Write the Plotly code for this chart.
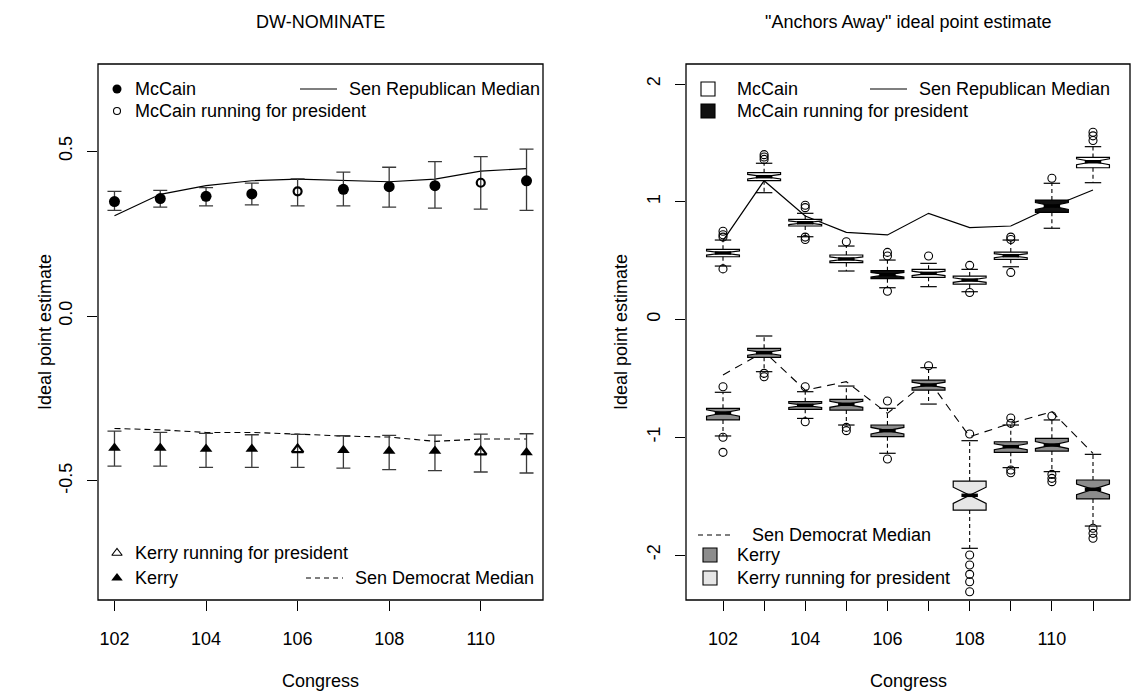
import plotly.graph_objects as go

W, H = 1131, 694
FONT = "Liberation Sans, Arial, Helvetica, sans-serif"

# ---------------- data ----------------
congress = [102, 103, 104, 105, 106, 107, 108, 109, 110, 111]
x_tick_left = [102, 104, 106, 108, 110]
x_tick_labels_right = ["102", "", "104", "", "106", "", "108", "", "110", ""]
y_ticks_left = [-0.5, 0.0, 0.5]
y_tick_labels_left = ["-0.5", "0.0", "0.5"]
y_ticks_right = [-2, -1, 0, 1, 2]
y_tick_labels_right = ["-2", "-1", "0", "1", "2"]

# DW-NOMINATE panel
dw_mccain = [0.347, 0.356, 0.363, 0.370, 0.378, 0.384, 0.392, 0.395, 0.404, 0.410]
dw_mccain_lo = [0.320, 0.330, 0.334, 0.337, 0.334, 0.334, 0.330, 0.327, 0.324, 0.320]
dw_mccain_hi = [0.378, 0.381, 0.389, 0.403, 0.416, 0.436, 0.451, 0.468, 0.483, 0.506]
dw_rep_median = [0.304, 0.369, 0.395, 0.410, 0.415, 0.411, 0.407, 0.415, 0.439, 0.447]
dw_kerry = [-0.400, -0.400, -0.403, -0.403, -0.405, -0.407, -0.409, -0.409, -0.412, -0.414]
dw_kerry_lo = [-0.455, -0.455, -0.459, -0.459, -0.459, -0.461, -0.466, -0.469, -0.473, -0.476]
dw_kerry_hi = [-0.349, -0.353, -0.356, -0.360, -0.359, -0.363, -0.362, -0.361, -0.358, -0.357]
dw_dem_median = [-0.341, -0.345, -0.353, -0.353, -0.358, -0.364, -0.367, -0.380, -0.373, -0.373]
dw_running = [False, False, False, False, True, False, False, False, True, False]

# "Anchors Away" panel: box statistics
mc_q1 = [0.533, 1.179, 0.794, 0.483, 0.347, 0.358, 0.301, 0.511, 0.910, 1.289]
mc_med = [0.565, 1.213, 0.822, 0.514, 0.381, 0.392, 0.335, 0.542, 0.964, 1.340]
mc_q3 = [0.596, 1.247, 0.851, 0.548, 0.415, 0.426, 0.369, 0.573, 1.015, 1.377]
mc_lo = [0.454, 1.077, 0.703, 0.412, 0.270, 0.279, 0.236, 0.448, 0.775, 1.162]
mc_hi = [0.675, 1.327, 0.902, 0.624, 0.505, 0.477, 0.426, 0.675, 1.157, 1.468]
mc_running = [False, False, False, False, True, False, False, False, True, False]
mc_out_x = [102, 102, 102, 102, 103, 103, 103, 104, 104, 104, 104, 105, 106, 106, 106,
            107, 108, 108, 109, 109, 109, 110, 111, 111, 111]
mc_out_y = [0.75, 0.72, 0.70, 0.43, 1.40, 1.38, 1.36, 0.97, 0.95, 0.70, 0.68, 0.66, 0.57, 0.54, 0.24,
            0.54, 0.46, 0.23, 0.70, 0.68, 0.40, 1.20, 1.52, 1.56, 1.59]

k_q1 = [-0.853, -0.321, -0.763, -0.769, -0.995, -0.599, -1.618, -1.128, -1.117, -1.524]
k_med = [-0.794, -0.282, -0.729, -0.720, -0.944, -0.556, -1.493, -1.080, -1.066, -1.442]
k_q3 = [-0.754, -0.245, -0.698, -0.678, -0.896, -0.514, -1.372, -1.038, -1.009, -1.363]
k_lo = [-0.989, -0.443, -0.840, -0.896, -1.136, -0.718, -1.943, -1.258, -1.292, -1.754]
k_hi = [-0.618, -0.140, -0.613, -0.565, -0.754, -0.409, -1.029, -0.896, -0.853, -1.145]
k_running = [False, False, False, False, False, False, True, False, False, False]
k_out_x = [102, 102, 102, 103, 103, 104, 104, 105, 105, 106, 106, 107,
           108, 108, 108, 108, 108, 108, 109, 109, 109, 109, 110, 110, 110, 110, 111, 111, 111]
k_out_y = [-0.571, -1.00, -1.128, -0.457, -0.486, -0.571, -0.868, -0.916, -0.944, -0.692, -1.185, -0.392,
           -0.972, -2.00, -2.085, -2.164, -2.227, -2.312, -0.836, -0.882, -1.278, -1.301,
           -0.82, -1.315, -1.349, -1.377, -1.773, -1.816, -1.858]

aa_rep_median = [0.67, 1.179, 0.879, 0.740, 0.718, 0.902, 0.780, 0.794, 0.958, 1.10]
aa_dem_median = [-0.471, -0.273, -0.600, -0.528, -0.797, -0.514, -0.995, -0.882, -0.783, -1.136]

# ---------------- style ----------------
BOX_W = 0.8
NOTCH_FRAC = 0.28
MED_HALF = 0.2
CAP_HALF = 0.2
KERRY_GRAY = "#8c8c8c"
KERRY_LIGHT = "#e6e6e6"


def pick(vals, flags, want=True):
    return [v for v, f in zip(vals, flags) if f == want]


def seg_xy(xs, y0s, y1s):
    X, Y = [], []
    for x, a, b in zip(xs, y0s, y1s):
        X += [x, x, None]
        Y += [a, b, None]
    return X, Y


def hseg_xy(xs, ys, half):
    X, Y = [], []
    for x, y in zip(xs, ys):
        X += [x - half, x + half, None]
        Y += [y, y, None]
    return X, Y


fig = go.Figure()
NS = dict(showlegend=False, hoverinfo="skip")

# ---------- left panel ----------
fig.add_trace(go.Scatter(x=congress, y=dw_rep_median, mode="lines",
                         line=dict(color="black", width=1.2), xaxis="x", yaxis="y", **NS))
fig.add_trace(go.Scatter(x=congress, y=dw_dem_median, mode="lines",
                         line=dict(color="black", width=1.1, dash="6px,4px"), xaxis="x", yaxis="y", **NS))
for vals, lo, hi in [(dw_mccain, dw_mccain_lo, dw_mccain_hi), (dw_kerry, dw_kerry_lo, dw_kerry_hi)]:
    fig.add_trace(go.Scatter(
        x=congress, y=vals, mode="markers", marker=dict(size=2, color="rgba(0,0,0,0)"),
        error_y=dict(type="data", symmetric=False,
                     array=[h - v for h, v in zip(hi, vals)],
                     arrayminus=[v - l for v, l in zip(vals, lo)],
                     color="#3a3a3a", thickness=1.3, width=7),
        xaxis="x", yaxis="y", **NS))
fig.add_trace(go.Scatter(x=pick(congress, dw_running, False), y=pick(dw_mccain, dw_running, False),
                         mode="markers", marker=dict(symbol="circle", size=11, color="black"),
                         xaxis="x", yaxis="y", **NS))
fig.add_trace(go.Scatter(x=pick(congress, dw_running), y=pick(dw_mccain, dw_running),
                         mode="markers", marker=dict(symbol="circle-open", size=8, color="black",
                                                     line=dict(width=2.2)),
                         xaxis="x", yaxis="y", **NS))
fig.add_trace(go.Scatter(x=pick(congress, dw_running, False), y=pick(dw_kerry, dw_running, False),
                         mode="markers", marker=dict(symbol="triangle-up", size=11, color="black"),
                         xaxis="x", yaxis="y", **NS))
fig.add_trace(go.Scatter(x=pick(congress, dw_running), y=pick(dw_kerry, dw_running),
                         mode="markers", marker=dict(symbol="triangle-up-open", size=10, color="black",
                                                     line=dict(width=2.2)),
                         xaxis="x", yaxis="y", **NS))

# ---------- right panel ----------
fig.add_trace(go.Scatter(x=congress, y=aa_rep_median, mode="lines", zorder=-1,
                         line=dict(color="black", width=1.2), xaxis="x2", yaxis="y2", **NS))
fig.add_trace(go.Scatter(x=congress, y=aa_dem_median, mode="lines", zorder=-1,
                         line=dict(color="black", width=1.1, dash="8px,6px"), xaxis="x2", yaxis="y2", **NS))


def add_boxes(q1, med, q3, flags, want, fill):
    xs = pick(congress, flags, want)
    a, m, b = pick(q1, flags, want), pick(med, flags, want), pick(q3, flags, want)
    fig.add_trace(go.Box(
        x=xs, q1=a, median=m, q3=b, lowerfence=a, upperfence=b,
        notched=True, notchwidth=0.5,
        notchspan=[NOTCH_FRAC * (hh - ll) for hh, ll in zip(b, a)],
        width=BOX_W, whiskerwidth=0, boxpoints=False,
        fillcolor=fill, line=dict(color="black", width=1.2),
        xaxis="x2", yaxis="y2", **NS))


add_boxes(mc_q1, mc_med, mc_q3, mc_running, False, "white")
add_boxes(mc_q1, mc_med, mc_q3, mc_running, True, "#111111")
add_boxes(k_q1, k_med, k_q3, k_running, False, KERRY_GRAY)
add_boxes(k_q1, k_med, k_q3, k_running, True, KERRY_LIGHT)

for q1, med, q3, lo, hi in [(mc_q1, mc_med, mc_q3, mc_lo, mc_hi), (k_q1, k_med, k_q3, k_lo, k_hi)]:
    X1, Y1 = seg_xy(congress, q3, hi)
    X2, Y2 = seg_xy(congress, q1, lo)
    fig.add_trace(go.Scatter(x=X1 + X2, y=Y1 + Y2, mode="lines",
                             line=dict(color="black", width=1.1, dash="4px,3px"),
                             xaxis="x2", yaxis="y2", **NS))
    X3, Y3 = hseg_xy(congress + congress, hi + lo, CAP_HALF)
    fig.add_trace(go.Scatter(x=X3, y=Y3, mode="lines", line=dict(color="black", width=1.2),
                             xaxis="x2", yaxis="y2", **NS))
    X4, Y4 = hseg_xy(congress, med, MED_HALF)
    fig.add_trace(go.Scatter(x=X4, y=Y4, mode="lines", line=dict(color="black", width=3.5),
                             xaxis="x2", yaxis="y2", **NS))

fig.add_trace(go.Scatter(x=mc_out_x + k_out_x, y=mc_out_y + k_out_y, mode="markers",
                         marker=dict(symbol="circle-open", size=8, color="black", line=dict(width=1.1)),
                         xaxis="x2", yaxis="y2", **NS))

# ---------- legends (pixel overlay) ----------
OV = dict(xaxis="x3", yaxis="y3", **NS)
fig.add_trace(go.Scatter(x=[117], y=[89], mode="markers",
                         marker=dict(symbol="circle", size=9, color="black"), **OV))
fig.add_trace(go.Scatter(x=[117], y=[111], mode="markers",
                         marker=dict(symbol="circle-open", size=7, color="black", line=dict(width=1.1)), **OV))
fig.add_trace(go.Scatter(x=[117], y=[553], mode="markers",
                         marker=dict(symbol="triangle-up-open", size=9, color="black", line=dict(width=1.1)), **OV))
fig.add_trace(go.Scatter(x=[117], y=[578], mode="markers",
                         marker=dict(symbol="triangle-up", size=10, color="black"), **OV))
fig.add_trace(go.Scatter(x=[300, 337], y=[89, 89], mode="lines", line=dict(color="black", width=1.2), **OV))
fig.add_trace(go.Scatter(x=[306, 343], y=[578, 578], mode="lines",
                         line=dict(color="black", width=1.1, dash="5px,4px"), **OV))

fig.add_trace(go.Scatter(x=[708], y=[89], mode="markers",
                         marker=dict(symbol="square", size=14, color="white", line=dict(color="black", width=1.1)), **OV))
fig.add_trace(go.Scatter(x=[708], y=[111], mode="markers",
                         marker=dict(symbol="square", size=14, color="#111111", line=dict(color="black", width=1.1)), **OV))
fig.add_trace(go.Scatter(x=[870, 907], y=[89, 89], mode="lines", line=dict(color="black", width=1.2), **OV))
fig.add_trace(go.Scatter(x=[698, 733], y=[535, 535], mode="lines",
                         line=dict(color="black", width=1.1, dash="5px,4px"), **OV))
fig.add_trace(go.Scatter(x=[710], y=[555], mode="markers",
                         marker=dict(symbol="square", size=14, color=KERRY_GRAY, line=dict(color="black", width=1.1)), **OV))
fig.add_trace(go.Scatter(x=[710], y=[578], mode="markers",
                         marker=dict(symbol="square", size=14, color=KERRY_LIGHT, line=dict(color="black", width=1.1)), **OV))

texts = [
    ("McCain", 133, 89), ("McCain running for president", 133, 111), ("Sen Republican Median", 347, 89),
    ("Kerry running for president", 133, 553), ("Kerry", 133, 578), ("Sen Democrat Median", 353, 578),
    ("McCain", 735, 89), ("McCain running for president", 735, 111), ("Sen Republican Median", 917, 89),
    ("Sen Democrat Median", 750, 535), ("Kerry", 735, 555), ("Kerry running for president", 735, 578),
]
annotations = []
for t, x, y in texts:
    annotations.append(dict(text=t, x=x, y=y, xref="x3", yref="y3", xanchor="left", yanchor="middle",
                            showarrow=False, font=dict(family=FONT, size=18, color="black")))
for t, x, y, ang in [("DW-NOMINATE", 320.5, 22, 0), ("\"Anchors Away\" ideal point estimate", 908, 22, 0),
                     ("Congress", 320.5, 681, 0), ("Congress", 908, 681, 0),
                     ("Ideal point estimate", 45, 332, -90), ("Ideal point estimate", 621, 332, -90)]:
    annotations.append(dict(text=t, x=x, y=y, xref="x3", yref="y3", xanchor="center", yanchor="middle",
                            textangle=ang, showarrow=False, font=dict(family=FONT, size=18, color="black")))

# plot frames (R box())
shapes = [
    dict(type="rect", xref="x domain", yref="y domain", x0=0, x1=1, y0=0, y1=1,
         line=dict(color="black", width=1.3), layer="above"),
    dict(type="rect", xref="x2 domain", yref="y2 domain", x0=0, x1=1, y0=0, y1=1,
         line=dict(color="black", width=1.3), layer="above"),
]

AX = dict(showline=False, ticks="outside", ticklen=10,
          tickwidth=1.2, tickcolor="black", showgrid=False, zeroline=False,
          tickfont=dict(family=FONT, size=18, color="black"))

fig.update_layout(
    width=W, height=H, margin=dict(l=0, r=0, t=0, b=0),
    paper_bgcolor="white", plot_bgcolor="rgba(0,0,0,0)", showlegend=False,
    boxmode="overlay",
    xaxis=dict(domain=[98 / W, 543 / W], range=[101.64, 111.36], anchor="y",
               tickvals=x_tick_left, ticktext=[str(v) for v in x_tick_left], ticklabelstandoff=12, **AX),
    yaxis=dict(domain=[1 - 600 / H, 1 - 64 / H], range=[-0.861, 0.764], anchor="x",
               tickvals=y_ticks_left, ticktext=y_tick_labels_left, tickangle=-90, ticklabelstandoff=8, **AX),
    xaxis2=dict(domain=[686 / W, 1130 / W], range=[101.10, 111.90], anchor="y2",
                tickvals=congress, ticktext=x_tick_labels_right, ticklabelstandoff=12, **AX),
    yaxis2=dict(domain=[1 - 600 / H, 1 - 64 / H], range=[-2.382, 2.170], anchor="x2",
                tickvals=y_ticks_right, ticktext=y_tick_labels_right, tickangle=-90, ticklabelstandoff=8, **AX),
    xaxis3=dict(domain=[0, 1], range=[0, W], anchor="y3", visible=False, fixedrange=True),
    yaxis3=dict(domain=[0, 1], range=[H, 0], anchor="x3", visible=False, fixedrange=True),
    annotations=annotations,
    shapes=shapes,
)

fig.write_html("out.html")
